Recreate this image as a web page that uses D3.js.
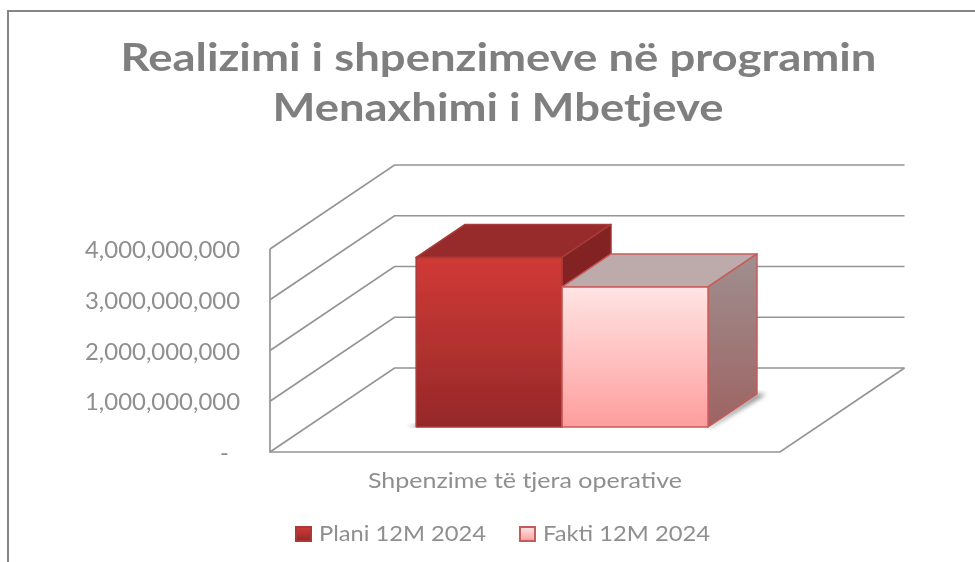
<!DOCTYPE html>
<html lang="en">
<head>
<meta charset="UTF-8">
<title>Realizimi i shpenzimeve</title>
<script src="https://cdn.jsdelivr.net/npm/d3@7"></script>
<style>
  html, body { margin: 0; background: #fff; }
  svg { display: block; }
  text { font-family: Lato, "Open Sans", sans-serif; fill: #8f8f8f; }
</style>
</head>
<body>
<script>
var titleLines = ["Realizimi i shpenzimeve në programin", "Menaxhimi i Mbetjeve"];
var categories = ["Shpenzime të tjera operative"];
var seriesNames = ["Plani 12M 2024", "Fakti 12M 2024"];
var planValues = [3340000000];
var factValues = [2760000000];
var yTicks = [0, 1000000000, 2000000000, 3000000000, 4000000000];

var width = 975, height = 562;
var wallDx = 124.5, wallDy = 84;

var svg = d3.select("body").append("svg").attr("width", width).attr("height", height);
var defs = svg.append("defs");

function gradient(id, top, bottom) {
  var g = defs.append("linearGradient").attr("id", id).attr("x1", 0).attr("y1", 0).attr("x2", 0).attr("y2", 1);
  g.append("stop").attr("offset", 0).attr("stop-color", top);
  g.append("stop").attr("offset", 1).attr("stop-color", bottom);
}
gradient("planFront", "#d03a36", "#962829");
gradient("factFront", "#ffe4e4", "#ff9d9d");
gradient("factSide", "#a08f8f", "#9e6363");
defs.append("filter").attr("id", "soft").append("feGaussianBlur").attr("stdDeviation", 0.6);
defs.append("filter").attr("id", "shadow").append("feGaussianBlur").attr("stdDeviation", 2.5);

// scales
var y = d3.scaleLinear().domain([0, 4000000000]).range([452, 249]);
var x = d3.scaleBand().domain(seriesNames).range([270, 780]).paddingInner(0).paddingOuter(0.747);

function pt(px, v, z) { return [px + z * wallDx, y(v) - z * wallDy]; }
function poly(sel, pts) { return sel.append("polygon").attr("points", pts.join(" ")); }

// frame
svg.append("path").attr("d", "M8,562V11H975").attr("fill", "none").attr("stroke", "#868686").attr("stroke-width", 2);

var chart = svg.append("g").attr("filter", "url(#soft)");

// walls and floor
var grid = chart.append("g").attr("fill", "none").attr("stroke", "#949494").attr("stroke-width", 1.7);
yTicks.forEach(function(t) {
  grid.append("polyline").attr("points", [pt(270, t, 0), pt(270, t, 1), pt(780, t, 1)].join(" "));
});
grid.append("polyline").attr("points", [pt(270, 4000000000, 0), pt(270, 0, 0), pt(780, 0, 0), pt(780, 0, 1)].join(" "));

// bars
var zFront = 0.298, zBack = 0.691;
var bw = x.bandwidth();

function drawBar(name, value, front, top, side, stroke) {
  var l = x(name), r = l + bw;
  var b = chart.append("g").attr("stroke", stroke).attr("stroke-width", 1.5).attr("stroke-linejoin", "round");
  poly(b, [pt(l, value, zFront), pt(r, value, zFront), pt(r, value, zBack), pt(l, value, zBack)]).attr("fill", top);
  poly(b, [pt(r, 0, zFront), pt(r, value, zFront), pt(r, value, zBack), pt(r, 0, zBack)]).attr("fill", side);
  b.append("rect").attr("x", pt(l, 0, zFront)[0]).attr("y", pt(l, value, zFront)[1])
    .attr("width", bw).attr("height", y(0) - y(value)).attr("fill", front);
}

// floor shadows
var fr = x(seriesNames[1]) + bw;
poly(chart, [pt(fr, 0, zFront), pt(fr, 0, zBack), pt(fr + 9, 0, zBack), pt(fr + 3, 0, zFront)])
  .attr("fill", "#777").attr("filter", "url(#shadow)");
var pl = x(seriesNames[0]);
poly(chart, [pt(pl - 9, 0, zFront), pt(pl, 0, zFront), pt(pl, 0, zFront + 0.04)])
  .attr("fill", "#888").attr("filter", "url(#shadow)");

drawBar(seriesNames[0], planValues[0], "url(#planFront)", "#972b29", "#822220", "#a83a38");
drawBar(seriesNames[1], factValues[0], "url(#factFront)", "#bdaaaa", "url(#factSide)", "#c65c5a");

// y axis labels
var axis = d3.axisLeft(y).tickValues(yTicks).tickSize(0).tickPadding(0)
  .tickFormat(function(d) { return d === 0 ? "-" : d3.format(",")(d); });
var axisG = chart.append("g").attr("transform", "translate(240,1)").call(axis);
axisG.select(".domain").remove();
axisG.selectAll("text").style("font-family", "Lato, sans-serif").style("font-size", "24px")
  .attr("textLength", function(d) { return d === 0 ? null : 155; })
  .attr("lengthAdjust", "spacingAndGlyphs")
  .attr("dx", function(d) { return d === 0 ? -11 : 0; });

// title
chart.selectAll(".title").data(titleLines).enter().append("text").attr("class", "title")
  .attr("x", function(d, i) { return i ? 498 : 498.5; })
  .attr("y", function(d, i) { return i ? 121 : 71; })
  .attr("text-anchor", "middle").attr("font-weight", 700).attr("font-size", 39)
  .attr("textLength", function(d, i) { return i ? 451 : 756; }).attr("lengthAdjust", "spacingAndGlyphs")
  .style("fill", "#7f7f7f")
  .text(function(d) { return d; });

// category label
chart.append("text").attr("x", 525).attr("y", 488).attr("text-anchor", "middle").attr("font-size", 22)
  .attr("textLength", 314).attr("lengthAdjust", "spacingAndGlyphs").text(categories[0]);

// legend
var legendX = [295, 519];
var legendFill = ["url(#planFront)", "url(#factFront)"];
var legendStroke = ["#a83a38", "#c65c5a"];
seriesNames.forEach(function(name, i) {
  chart.append("rect").attr("x", legendX[i] + 1).attr("y", 527).attr("width", 15).attr("height", 14)
    .attr("fill", legendFill[i]).attr("stroke", legendStroke[i]).attr("stroke-width", 2);
  chart.append("text").attr("x", legendX[i] + 24).attr("y", 541).attr("font-size", 22)
    .attr("textLength", 167).attr("lengthAdjust", "spacingAndGlyphs").text(name);
});
</script>
</body>
</html>
